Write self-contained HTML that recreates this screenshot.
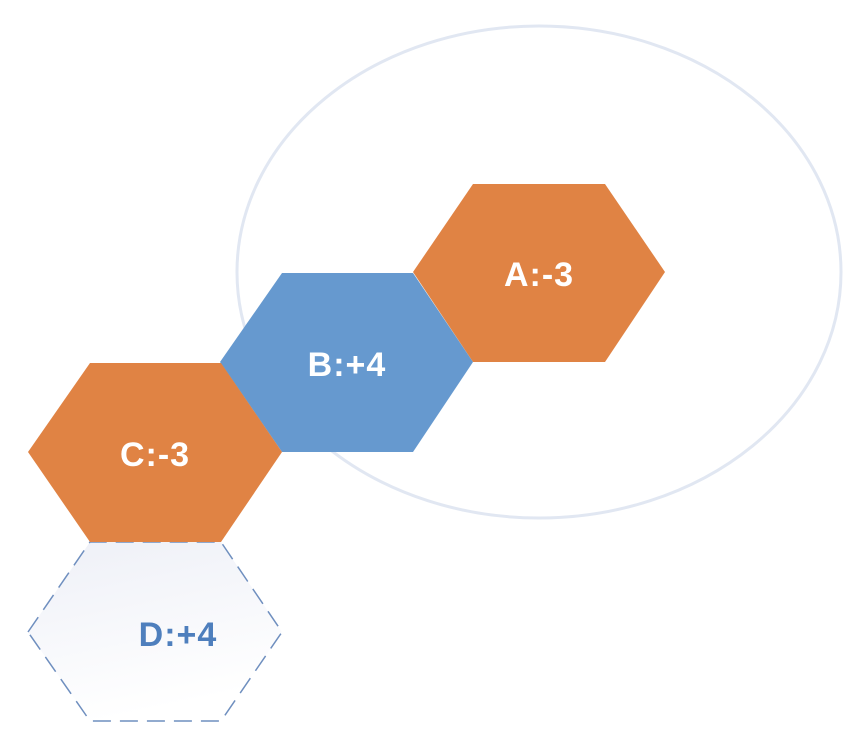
<!DOCTYPE html>
<html><head><meta charset="utf-8"><style>
html,body{margin:0;padding:0;background:#fff;}
svg{display:block;}
text{font-family:"Liberation Sans",sans-serif;font-weight:bold;letter-spacing:1px;}
</style></head><body>
<svg width="848" height="732" viewBox="0 0 848 732" xmlns="http://www.w3.org/2000/svg">
<defs>
<linearGradient id="g" x1="0" y1="0" x2="0.3" y2="1">
<stop offset="0" stop-color="#eef0f7"/><stop offset="1" stop-color="#ffffff"/>
</linearGradient>
</defs>
<ellipse cx="539" cy="272" rx="302" ry="246" fill="none" stroke="#e1e7f2" stroke-width="3"/>
<polygon points="28,632 90,542 221,542 282,632 221,721 90,721" fill="url(#g)" stroke="#6f8fbf" stroke-width="1.5" stroke-dasharray="18,9"/>
<polygon points="413,272 473,184 605,184 665,272 605,362 473,362" fill="#e08344"/>
<polygon points="220,362 282,273 413,273 473,362 413,452 282,452" fill="#6699cf"/>
<polygon points="28,452 90,363 221,363 282,452 221,542 90,542" fill="#e08344"/>
<text x="539" y="286" font-size="34" fill="#fff" text-anchor="middle">A:-3</text>
<text x="347" y="376" font-size="34" fill="#fff" text-anchor="middle">B:+4</text>
<text x="155" y="466" font-size="34" fill="#fff" text-anchor="middle">C:-3</text>
<text x="178" y="646" font-size="34" fill="#4e7fbd" text-anchor="middle">D:+4</text>
</svg>
</body></html>
